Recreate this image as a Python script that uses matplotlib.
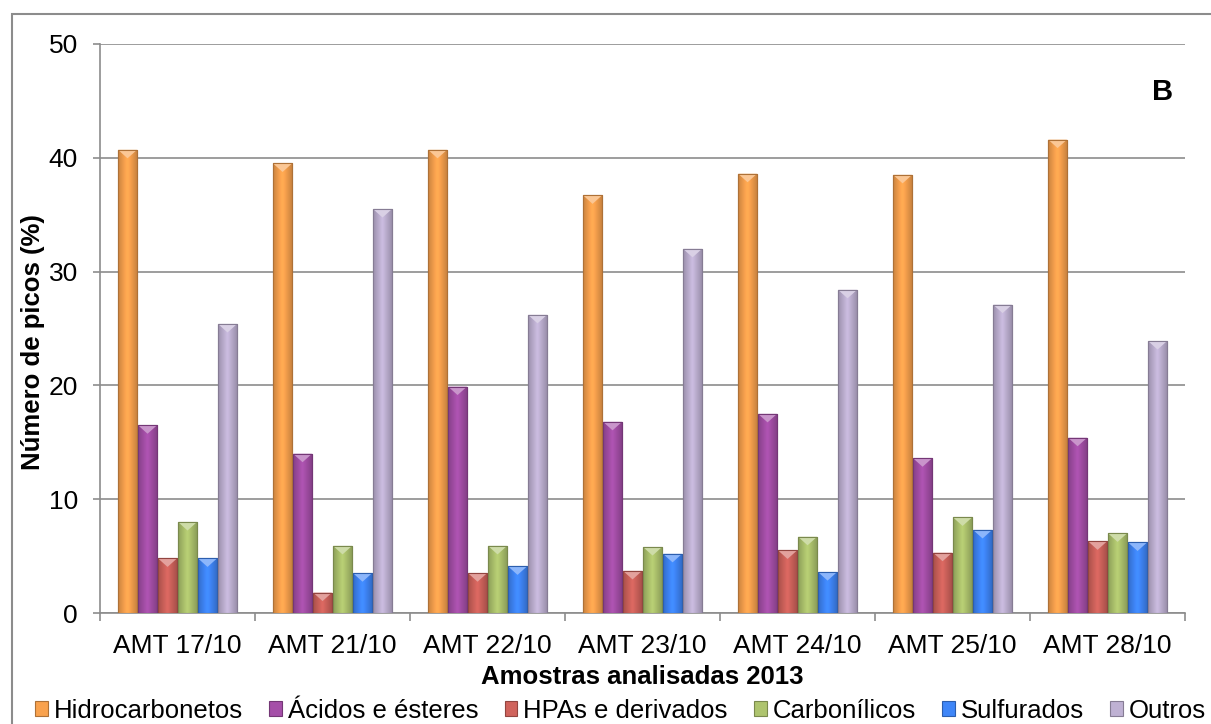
import numpy as np
import matplotlib.pyplot as plt
from matplotlib.patches import Rectangle, Polygon
from matplotlib.colors import to_rgb

plt.rcParams['font.family'] = ['Liberation Sans', 'DejaVu Sans']

samples = ['AMT 17/10', 'AMT 21/10', 'AMT 22/10', 'AMT 23/10', 'AMT 24/10', 'AMT 25/10', 'AMT 28/10']
series = ['Hidrocarbonetos', 'Ácidos e ésteres', 'HPAs e derivados', 'Carbonílicos', 'Sulfurados', 'Outros']
hidro = [40.7, 39.5, 40.7, 36.7, 38.6, 38.5, 41.6]
acidos = [16.5, 14.0, 19.9, 16.8, 17.5, 13.6, 15.4]
hpas = [4.8, 1.8, 3.5, 3.7, 5.5, 5.3, 6.3]
carbon = [8.0, 5.9, 5.9, 5.8, 6.7, 8.4, 7.0]
sulf = [4.8, 3.5, 4.1, 5.2, 3.6, 7.3, 6.2]
outros = [25.4, 35.5, 26.2, 32.0, 28.4, 27.1, 23.9]

colors = ['#F9A24E', '#A54FA8', '#D0635C', '#AEC46E', '#3F86F8', '#BFB1D3']

fig = plt.figure(figsize=(12.11, 7.24), dpi=100)
ax = fig.add_axes([0.0826, 0.1533, 0.896, 0.786])
ax.set_xlim(-0.5, len(samples) - 0.5)
ax.set_ylim(0, 50)

# horizontal shading across a bar: darker sides, lighter middle
shade = np.concatenate([np.linspace(0.82, 1.06, 10), np.linspace(1.06, 0.82, 10)])


def bevel_bar(rect, color):
    rgb = np.array(to_rgb(color))
    x0, y0 = rect.get_x(), rect.get_y()
    bw, bh = rect.get_width(), rect.get_height()
    img = np.clip(shade[None, :, None] * rgb[None, None, :], 0, 1)
    im = ax.imshow(img, extent=[x0, x0 + bw, y0, y0 + bh], aspect='auto',
                   interpolation='bilinear', zorder=3)
    im.set_clip_path(rect)
    dep = min(0.75, bh * 0.5)
    light = np.clip(rgb * 0.6 + 0.4, 0, 1)
    ax.add_patch(Polygon([[x0, y0 + bh], [x0 + bw, y0 + bh], [x0 + bw / 2, y0 + bh - dep]],
                         closed=True, facecolor=light, edgecolor='none', zorder=4))


x = np.arange(len(samples))
w = 0.129
data = [hidro, acidos, hpas, carbon, sulf, outros]
for i, (vals, c, name) in enumerate(zip(data, colors, series)):
    ec = tuple(np.array(to_rgb(c)) * 0.7)
    bars = ax.bar(x + (i - 2.5) * w, vals, width=w * 0.95, color=c, edgecolor=ec,
                  linewidth=0.8, label=name, zorder=2)
    for r in bars:
        bevel_bar(r, c)
        ax.add_patch(Rectangle((r.get_x(), 0), r.get_width(), r.get_height(), fill=False,
                               edgecolor=ec, linewidth=0.8, zorder=5))

ax.set_yticks(range(0, 51, 10))
ax.yaxis.grid(True, color='#8c8c8c', linewidth=1.2, zorder=0)
ax.set_axisbelow(True)
ax.set_xticks(x)
ax.set_xticklabels(samples, fontsize=19)
ax.set_xticks(np.arange(-0.5, len(samples)), minor=True)
ax.tick_params(axis='x', which='major', length=0, pad=15)
ax.tick_params(axis='x', which='minor', length=6, color='#8c8c8c', width=1.2)
ax.tick_params(axis='y', labelsize=19, length=5, pad=11, color='#8c8c8c', width=1.2)
for s in ['top', 'right']:
    ax.spines[s].set_visible(False)
for s in ['left', 'bottom']:
    ax.spines[s].set_color('#8c8c8c')
    ax.spines[s].set_linewidth(1.2)

ax.set_ylabel('Número de picos (%)', fontsize=18.5, fontweight='bold')
ax.yaxis.set_label_coords(-0.0505, 0.476)
ax.set_xlabel('Amostras analisadas 2013', fontsize=18.5, fontweight='bold', labelpad=5)
ax.text(0.989, 0.916, 'B', transform=ax.transAxes, fontsize=21, fontweight='bold',
        ha='right', va='center')

fig.legend(loc='center', bbox_to_anchor=(0.5125, 0.0185), ncol=6, frameon=False,
           fontsize=18.5, handlelength=0.5, handleheight=0.5, handletextpad=0.23,
           columnspacing=1.02, borderpad=0)

fig.patches.append(Rectangle((0.0099, -0.1), 1.2, 1.0807, transform=fig.transFigure,
                             fill=False, edgecolor='#8c8c8c', linewidth=1.5))

fig.savefig('out.png', dpi=100)
